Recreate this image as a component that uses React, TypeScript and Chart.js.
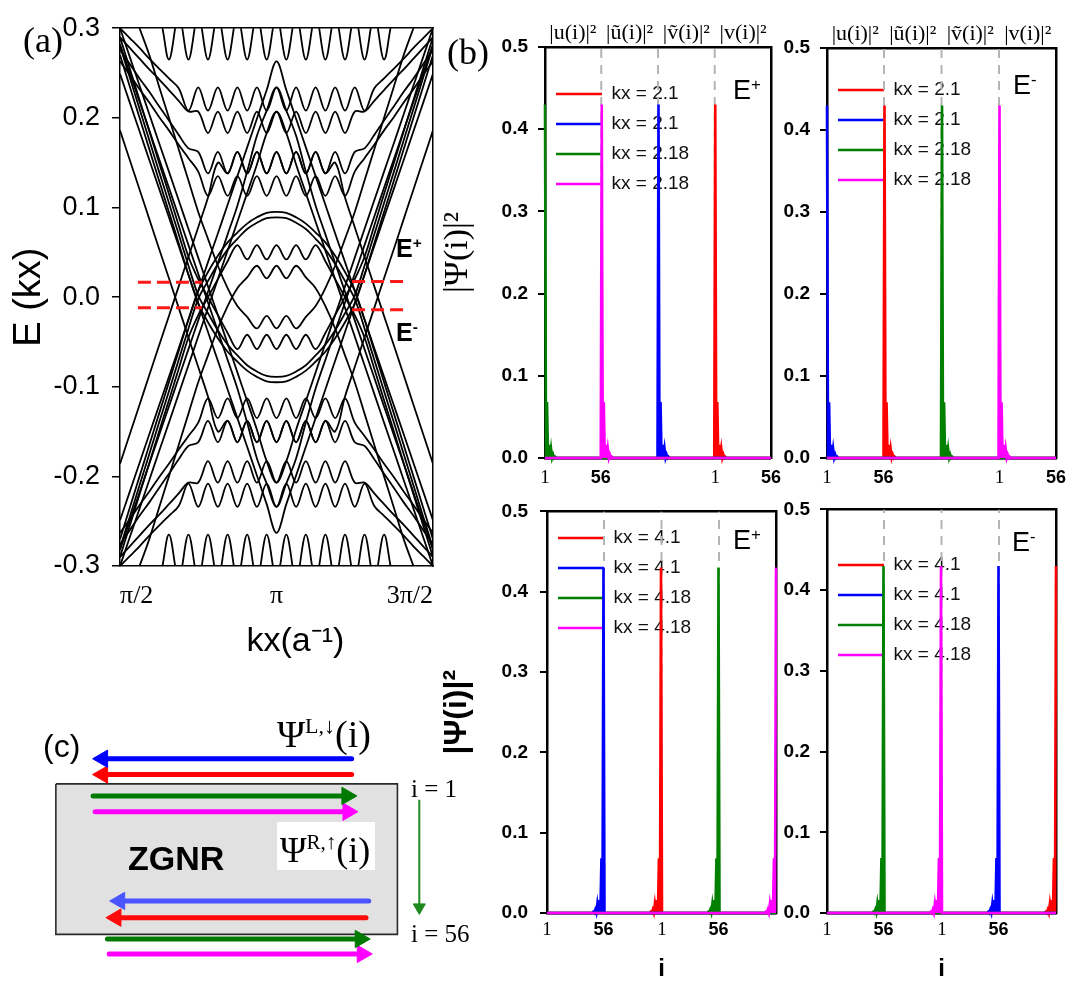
import React, { useEffect, useRef } from 'react';
import { Chart, registerables } from 'chart.js';

Chart.register(...registerables);

const SANS = "'Liberation Sans', Arial, Helvetica, sans-serif";
const SERIF = "'Liberation Serif', 'Times New Roman', Times, serif";
Chart.defaults.color = '#000';
Chart.defaults.font.family = SANS;

// ---------------- Panel (a): band structure E(kx) ----------------
const kxAxisTicks = [1.5708, 3.1416, 4.7124];
const kxAxisLabels = ['π/2', 'π', '3π/2'];
const energyTicks = [-0.3, -0.2, -0.1, 0.0, 0.1, 0.2, 0.3];
const energyTickLabels = ['-0.3', '-0.2', '-0.1', '0.0', '0.1', '0.2', '0.3'];

// kx samples from π/2 to π (the spectrum is symmetric about kx = π and about E = 0)
const kxHalf = [1.571, 1.669, 1.767, 1.865, 1.963, 2.062, 2.160, 2.258, 2.356, 2.454, 2.553, 2.651, 2.749, 2.847, 2.945, 3.043, 3.1416];

const bandU1 = [0.400, 0.370, 0.345, 0.320, 0.315, 0.265, 0.315, 0.265, 0.315, 0.265, 0.315, 0.265, 0.315, 0.265, 0.315, 0.265, 0.315];
const bandU2 = [0.300, 0.289, 0.278, 0.266, 0.255, 0.244, 0.233, 0.208, 0.234, 0.208, 0.234, 0.208, 0.234, 0.208, 0.234, 0.208, 0.234];
const bandU3 = [0.290, 0.278, 0.266, 0.254, 0.243, 0.231, 0.219, 0.207, 0.207, 0.183, 0.207, 0.183, 0.207, 0.183, 0.207, 0.183, 0.207];
const bandU4 = [0.276, 0.260, 0.244, 0.229, 0.213, 0.197, 0.181, 0.166, 0.162, 0.138, 0.162, 0.138, 0.162, 0.138, 0.162, 0.138, 0.162];
const bandU5 = [0.263, 0.248, 0.232, 0.217, 0.201, 0.186, 0.170, 0.155, 0.140, 0.113, 0.135, 0.113, 0.135, 0.113, 0.135, 0.113, 0.135];
const bandD1 = [-0.270, -0.235, -0.200, -0.165, -0.130, -0.095, -0.060, -0.025, 0.007, 0.028, 0.046, 0.061, 0.072, 0.082, 0.089, 0.094, 0.095];
const bandD2 = [-0.280, -0.245, -0.210, -0.175, -0.140, -0.105, -0.070, -0.035, -0.002, 0.018, 0.037, 0.053, 0.065, 0.076, 0.083, 0.088, 0.089];
const bandC1 = [-0.290, -0.255, -0.220, -0.185, -0.150, -0.115, -0.080, -0.045, -0.020, 0.000, 0.020, 0.040, 0.058, 0.042, 0.058, 0.042, 0.058];
const bandC2 = [-0.360, -0.330, -0.300, -0.270, -0.235, -0.200, -0.165, -0.130, -0.095, -0.065, -0.035, -0.010, 0.010, 0.022, 0.035, 0.021, 0.035];
const bandS1 = [0.186, 0.153, 0.120, 0.087, 0.054, 0.021, -0.012, -0.045, -0.078, -0.111, -0.150, -0.138, -0.162, -0.138, -0.162, -0.138, -0.162];
const bandV1 = [0.300, 0.268, 0.236, 0.204, 0.172, 0.140, 0.108, 0.076, 0.044, 0.012, -0.020, -0.052, -0.084, -0.116, -0.148, -0.183, -0.207];
const bandV2 = [0.282, 0.250, 0.218, 0.186, 0.154, 0.122, 0.090, 0.058, 0.026, -0.006, -0.038, -0.070, -0.102, -0.140, -0.180, -0.208, -0.234];
const bandV3 = [0.249, 0.217, 0.185, 0.153, 0.121, 0.089, 0.057, 0.025, -0.007, -0.039, -0.071, -0.103, -0.135, -0.167, -0.199, -0.231, -0.263];
const bandSet = [bandU1, bandU2, bandU3, bandU4, bandU5, bandD1, bandD2, bandC1, bandC2, bandS1, bandV1, bandV2, bandV3];

const fermiLeftKx = [1.751, 2.394];
const fermiRightKx = [3.900, 4.452];
const fermiLeftE = [0.0165, -0.0118];
const fermiRightE = [0.0174, -0.0142];

function mirrorBand(half: number[], sign: number) {
  const pts: { x: number; y: number }[] = kxHalf.map((k, j) => ({ x: k, y: sign * half[j] }));
  for (let j = kxHalf.length - 2; j >= 0; j--) pts.push({ x: 2 * Math.PI - kxHalf[j], y: sign * half[j] });
  return pts;
}

function bandConfig(): any {
  const datasets: any[] = [];
  bandSet.forEach((b) => {
    [1, -1].forEach((s) => {
      datasets.push({ data: mirrorBand(b, s), borderColor: '#000', borderWidth: 1.8, pointRadius: 0, tension: 0.35, order: 5 });
    });
  });
  [0, 1].forEach((r) => {
    datasets.push({ data: [{ x: fermiLeftKx[0], y: fermiLeftE[r] }, { x: fermiLeftKx[1], y: fermiLeftE[r] }], borderColor: '#ff1a1a', borderWidth: 3, borderDash: [13, 6], pointRadius: 0, order: 0 });
    datasets.push({ data: [{ x: fermiRightKx[0], y: fermiRightE[r] }, { x: fermiRightKx[1], y: fermiRightE[r] }], borderColor: '#ff1a1a', borderWidth: 3, borderDash: [13, 6], pointRadius: 0, order: 0 });
  });
  return {
    type: 'line',
    data: { datasets },
    options: {
      animation: false, responsive: false, devicePixelRatio: 1, events: [],
      layout: { padding: { left: 0, top: 16, right: 17, bottom: 0 } },
      plugins: { legend: { display: false }, tooltip: { enabled: false } },
      scales: {
        x: {
          type: 'linear', min: Math.PI / 2, max: 1.5 * Math.PI,
          afterBuildTicks: (s: any) => { s.ticks = kxAxisTicks.map((v) => ({ value: v })); },
          ticks: { callback: (_v: any, i: number) => kxAxisLabels[i], font: { family: SERIF, size: 26 }, align: 'inner', padding: 15, maxRotation: 0, autoSkip: false },
          grid: { display: false, drawTicks: false },
          border: { display: true, color: '#000', width: 1.5 },
          title: { display: true, text: '    kx(a⁻¹)', font: { family: SANS, size: 34 }, padding: { top: 0, bottom: 18 } },
          afterFit: (s: any) => { s.height = 114; },
        },
        x2: {
          type: 'linear', position: 'top', min: 0, max: 1,
          ticks: { display: false }, grid: { display: false, drawTicks: false },
          border: { display: true, color: '#000', width: 1.5 },
          afterFit: (s: any) => { s.height = 0; },
        },
        y: {
          min: -0.3, max: 0.3,
          afterBuildTicks: (s: any) => { s.ticks = energyTicks.map((v) => ({ value: v })); },
          ticks: { callback: (_v: any, i: number) => energyTickLabels[i], font: { family: SANS, size: 27 }, padding: 12 },
          grid: { display: true, drawOnChartArea: false, drawTicks: true, tickLength: 8, color: '#000', lineWidth: 1.5 },
          border: { display: true, color: '#000', width: 1.5 },
          title: { display: true, text: 'E (kx)', font: { family: SANS, size: 38 }, padding: { top: 7, bottom: 0 } },
          afterFit: (s: any) => { s.width = 120; },
        },
        y2: {
          position: 'right', min: 0, max: 1,
          ticks: { display: false }, grid: { display: false, drawTicks: false },
          border: { display: true, color: '#000', width: 1.5 },
          afterFit: (s: any) => { s.width = 0; },
        },
      },
    },
  };
}

// ---------------- Panel (b): |Ψ(i)|² profiles ----------------
const siteCount = 224; // four blocks of 56 sites: u, ũ, ṽ, v
const blockEdges = [56.5, 112.5, 168.5];
const edgeProfile = [0.43, 0.0, 0.068, 0.0, 0.016, 0.0, 0.011, 0.0, 0.004, 0.0, 0.0015, 0.0];
const psiTicks = [0.0, 0.1, 0.2, 0.3, 0.4, 0.5];
const psiTickLabels = ['0.0', '0.1', '0.2', '0.3', '0.4', '0.5'];
const seriesColors = ['#ff0000', '#0000ff', '#008000', '#ff00ff'];
const labelsLowK = ['kx = 2.1', 'kx = 2.1', 'kx = 2.18', 'kx = 2.18'];
const labelsHighK = ['kx = 4.1', 'kx = 4.1', 'kx = 4.18', 'kx = 4.18'];
// peak site of red, blue, green, magenta
const peaksTopEplus = [169, 113, 1, 57];
const peaksTopEminus = [57, 1, 113, 169];
const peaksBotEplus = [112, 56, 168, 224];
const peaksBotEminus = [224, 168, 56, 112];
const topRowTickSites = [1, 56, 169, 224];
const bottomRowTickSites = [1, 56, 113, 168];
const siteTickLabels = ['1', '56', '1', '56'];
const headerSites = [28.5, 84.5, 140.5, 196.5];
const headerLabels = ['|u(i)|²', '|ũ(i)|²', '|ṽ(i)|²', '|v(i)|²'];

function siteSeries(peak: number, decay: number) {
  const pts: { x: number; y: number }[] = [];
  for (let i = 1; i <= siteCount; i++) {
    const d = (i - peak) * decay;
    pts.push({ x: i, y: d >= 0 && d < edgeProfile.length ? edgeProfile[d] : 0 });
  }
  return pts;
}

type PsiPanel = {
  peaks: number[]; labels: string[]; decay: number; tickSites: number[]; headers: boolean;
  yTitle: boolean; yTitleFont: any; xTitle: boolean; yWidth: number; rightPad: number;
  x2H: number; xH: number; xTickPad: number; yTickPad: number; legendTitleH: number;
};

const psiPanels: PsiPanel[] = [
  { peaks: peaksTopEplus, labels: labelsLowK, decay: 1, tickSites: topRowTickSites, headers: true, yTitle: true, yTitleFont: { family: SERIF, size: 34 }, xTitle: false, yWidth: 125, rightPad: 15, x2H: 47, xH: 42, xTickPad: 9, yTickPad: 10, legendTitleH: 73.5 },
  { peaks: peaksTopEminus, labels: labelsLowK, decay: 1, tickSites: topRowTickSites, headers: true, yTitle: false, yTitleFont: null, xTitle: false, yWidth: 52, rightPad: 29, x2H: 48, xH: 42, xTickPad: 9, yTickPad: 10, legendTitleH: 69.5 },
  { peaks: peaksBotEplus, labels: labelsHighK, decay: -1, tickSites: bottomRowTickSites, headers: false, yTitle: true, yTitleFont: { family: SANS, size: 32, weight: 'bold' }, xTitle: true, yWidth: 127, rightPad: 14, x2H: 15, xH: 76, xTickPad: 6, yTickPad: 12, legendTitleH: 29.5 },
  { peaks: peaksBotEminus, labels: labelsHighK, decay: -1, tickSites: bottomRowTickSites, headers: false, yTitle: false, yTitleFont: null, xTitle: true, yWidth: 52, rightPad: 29, x2H: 15, xH: 76, xTickPad: 6, yTickPad: 10, legendTitleH: 56.5 },
];

function psiConfig(p: PsiPanel): any {
  const datasets: any[] = [];
  p.peaks.forEach((pk, k) => {
    datasets.push({ label: p.labels[k], data: siteSeries(pk, p.decay), borderColor: seriesColors[k], backgroundColor: seriesColors[k], borderWidth: 2.6, pointRadius: 0, tension: 0, order: 4 - k, clip: 6 });
  });
  blockEdges.forEach((e) => {
    datasets.push({ label: '_edge', data: [{ x: e, y: 0 }, { x: e, y: 0.5 }], borderColor: '#b4b4b4', borderWidth: 2, borderDash: [9, 7], pointRadius: 0, order: 10 });
  });
  const frame = { display: true, color: '#000', width: 2.5 };
  return {
    type: 'line',
    data: { datasets },
    options: {
      animation: false, responsive: false, devicePixelRatio: 1, events: [],
      layout: { padding: { left: 0, top: 0, right: p.rightPad, bottom: 0 } },
      plugins: {
        tooltip: { enabled: false },
        legend: {
          display: true, position: 'chartArea', align: 'start',
          title: { display: true, text: ' ', color: 'rgba(0,0,0,0)', font: { size: 10, lineHeight: 1 }, padding: { top: p.legendTitleH - 10, bottom: 0 } },
          labels: {
            usePointStyle: true, pointStyle: 'line', pointStyleWidth: 46, padding: 11,
            font: { family: SANS, size: 19 }, color: '#111',
            filter: (it: any) => !String(it.text).startsWith('_'),
            sort: (a: any, b: any) => a.datasetIndex - b.datasetIndex,
          },
        },
      },
      scales: {
        x: {
          type: 'linear', min: 1, max: siteCount,
          afterBuildTicks: (s: any) => { s.ticks = p.tickSites.map((v) => ({ value: v })); },
          ticks: {
            callback: (_v: any, i: number) => siteTickLabels[i], autoSkip: false, maxRotation: 0, padding: p.xTickPad,
            font: (ctx: any) => (siteTickLabels[ctx.index] === '1' ? { family: SERIF, size: 19 } : { family: SANS, size: 18, weight: 'bold' }),
          },
          grid: { display: false, drawTicks: false },
          border: frame,
          title: { display: p.xTitle, text: 'i', font: { family: SANS, size: 24, weight: 'bold' }, padding: { top: 0, bottom: 5 } },
          afterFit: (s: any) => { s.height = p.xH; },
        },
        x2: {
          type: 'linear', position: 'top', min: 1, max: siteCount,
          afterBuildTicks: (s: any) => { s.ticks = headerSites.map((v) => ({ value: v })); },
          ticks: { display: p.headers, callback: (_v: any, i: number) => headerLabels[i], autoSkip: false, maxRotation: 0, padding: 1, font: { family: SERIF, size: 22 } },
          grid: { display: false, drawTicks: false },
          border: frame,
          afterFit: (s: any) => { s.height = p.x2H; },
        },
        y: {
          min: 0, max: 0.5,
          afterBuildTicks: (s: any) => { s.ticks = psiTicks.map((v) => ({ value: v })); },
          ticks: { callback: (_v: any, i: number) => psiTickLabels[i], font: { family: SANS, size: 19, weight: 'bold' }, padding: p.yTickPad },
          grid: { display: true, drawOnChartArea: false, drawTicks: true, tickLength: 7, color: '#000', lineWidth: 2 },
          border: frame,
          title: { display: p.yTitle, text: '|Ψ(i)|²', font: p.yTitleFont || { size: 12 }, padding: { top: 18, bottom: 0 } },
          afterFit: (s: any) => { s.width = p.yWidth; },
        },
        y2: {
          position: 'right', min: 0, max: 0.5,
          ticks: { display: false }, grid: { display: false, drawTicks: false },
          border: frame,
          afterFit: (s: any) => { s.width = 0; },
        },
      },
    },
  };
}

// ---------------- Panel (c): ZGNR schematic (ribbon units: length 0–100, width 0–100) ----------------
const arrowLevels = [-16.7, -6.2, 8.0, 18.5, 77.8, 88.9, 103.1, 113.0];
const arrowTails = [86.6, 86.6, 10.9, 11.5, 91.6, 90.8, 15.1, 15.6];
const arrowTips = [10.9, 10.9, 88.0, 88.3, 15.9, 14.8, 91.9, 92.5];
const arrowColors = ['#0000ff', '#ff0000', '#007a00', '#ff00ff', '#4a55ff', '#ff0a0a', '#007a00', '#ff00ff'];
const ribbonX = [0, 100];
const ribbonY = [0, 100];
const siteArrowX = 106.4;
const siteArrowY = [10.5, 86.4];

function schematicConfig(): any {
  const pxPerX = 3.58;
  const pxPerY = 1.62;
  const headR = 10;
  const datasets: any[] = [];
  datasets.push({ data: [{ x: ribbonX[0], y: ribbonY[0] }, { x: ribbonX[1], y: ribbonY[0] }], borderWidth: 0, backgroundColor: '#e1e1e1', fill: { value: ribbonY[1] }, pointRadius: 0, order: 20 });
  datasets.push({ data: [{ x: ribbonX[0], y: ribbonY[0] }, { x: ribbonX[1], y: ribbonY[0] }, { x: ribbonX[1], y: ribbonY[1] }, { x: ribbonX[0], y: ribbonY[1] }, { x: ribbonX[0], y: ribbonY[0] }], borderColor: '#2a2a2a', borderWidth: 1.6, pointRadius: 0, order: 19 });
  arrowLevels.forEach((lv, k) => {
    const dir = arrowTips[k] > arrowTails[k] ? 1 : -1;
    const head = arrowTips[k] - (dir * headR) / pxPerX;
    datasets.push({
      data: [{ x: arrowTails[k], y: lv }, { x: head, y: lv }],
      borderColor: arrowColors[k], borderWidth: 5, borderCapStyle: 'round',
      pointRadius: [0, headR], pointStyle: 'triangle', pointRotation: [0, dir > 0 ? 90 : 270],
      pointBackgroundColor: arrowColors[k], pointBorderColor: arrowColors[k], pointBorderWidth: 1, order: 1,
    });
  });
  const vr = 7;
  datasets.push({
    data: [{ x: siteArrowX, y: siteArrowY[0] }, { x: siteArrowX, y: siteArrowY[1] - vr / pxPerY }],
    borderColor: '#1f8a1f', borderWidth: 2, pointRadius: [0, vr], pointStyle: 'triangle', pointRotation: [0, 180],
    pointBackgroundColor: '#1f8a1f', pointBorderColor: '#1f8a1f', pointBorderWidth: 1, order: 1,
  });
  return {
    type: 'line',
    data: { datasets },
    options: {
      animation: false, responsive: false, devicePixelRatio: 1, events: [],
      layout: { padding: 0 },
      plugins: { legend: { display: false }, tooltip: { enabled: false } },
      scales: {
        x: { type: 'linear', display: false, min: -47 / pxPerX, max: (480 - 47) / pxPerX },
        y: { type: 'linear', display: false, reverse: true, min: -100 / pxPerY, max: 209 / pxPerY },
      },
    },
  };
}

// ---------------- React plumbing ----------------
function ChartCanvas(props: { left: number; top: number; width: number; height: number; build: () => any }) {
  const ref = useRef<HTMLCanvasElement | null>(null);
  useEffect(() => {
    const chart = new Chart(ref.current as HTMLCanvasElement, props.build());
    return () => chart.destroy();
  }, []);
  const { left, top, width, height } = props;
  return <canvas ref={ref} width={width} height={height} style={{ position: 'absolute', left, top, width, height }} />;
}

function Txt(props: { left: number; top: number; font: string; children: any; style?: any }) {
  return (
    <div style={{ position: 'absolute', left: props.left, top: props.top, font: props.font, lineHeight: 1, whiteSpace: 'nowrap', color: '#000', ...(props.style || {}) }}>
      {props.children}
    </div>
  );
}

const sup = (t: string, shift: string, size: string) => (
  <span style={{ fontSize: size, position: 'relative', top: shift }}>{t}</span>
);

export default function App() {
  return (
    <div style={{ position: 'absolute', left: 0, top: 0, width: 1085, height: 989, background: '#fff', overflow: 'hidden' }}>
      <ChartCanvas left={0} top={0} width={450} height={680} build={bandConfig} />
      <ChartCanvas left={420} top={0} width={370} height={500} build={() => psiConfig(psiPanels[0])} />
      <ChartCanvas left={775} top={0} width={310} height={500} build={() => psiConfig(psiPanels[1])} />
      <ChartCanvas left={420} top={488} width={370} height={501} build={() => psiConfig(psiPanels[2])} />
      <ChartCanvas left={775} top={488} width={310} height={501} build={() => psiConfig(psiPanels[3])} />
      <ChartCanvas left={0} top={680} width={480} height={309} build={schematicConfig} />

      <Txt left={23} top={22} font={`36px ${SERIF}`}>(a)</Txt>
      <Txt left={447} top={34} font={`36px ${SERIF}`}>(b)</Txt>
      <Txt left={43} top={730} font={`32px ${SANS}`}>(c)</Txt>

      <Txt left={396} top={236} font={`bold 25px ${SANS}`}>E{sup('+', '-0.55em', '0.62em')}</Txt>
      <Txt left={396} top={320} font={`bold 25px ${SANS}`}>E{sup('-', '-0.55em', '0.62em')}</Txt>

      <Txt left={733} top={77} font={`27px ${SANS}`}>E{sup('+', '-0.55em', '0.62em')}</Txt>
      <Txt left={1013} top={72} font={`27px ${SANS}`}>E{sup('-', '-0.55em', '0.62em')}</Txt>
      <Txt left={733} top={527} font={`27px ${SANS}`}>E{sup('+', '-0.55em', '0.62em')}</Txt>
      <Txt left={1012} top={529} font={`27px ${SANS}`}>E{sup('-', '-0.55em', '0.62em')}</Txt>

      <Txt left={277} top={715} font={`38px ${SERIF}`}>Ψ{sup('L,↓', '-14px', '22px')}(i)</Txt>
      <div style={{ position: 'absolute', left: 277, top: 822, width: 98, height: 48, background: '#fff' }} />
      <Txt left={280} top={832} font={`36px ${SERIF}`}>Ψ{sup('R,↑', '-13px', '21px')}(i)</Txt>
      <Txt left={128} top={841} font={`bold 34px ${SANS}`}>ZGNR</Txt>
      <Txt left={411} top={776} font={`25px ${SERIF}`}>i = 1</Txt>
      <Txt left={411} top={921} font={`25px ${SERIF}`}>i = 56</Txt>
    </div>
  );
}
